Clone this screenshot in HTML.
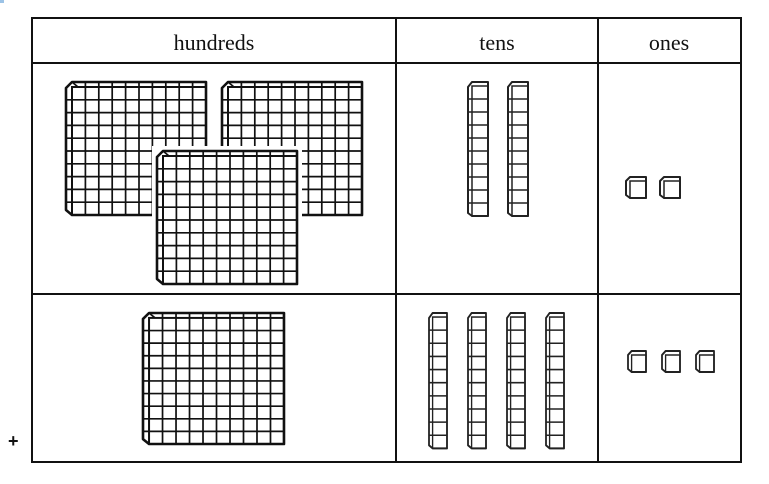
<!DOCTYPE html>
<html><head><meta charset="utf-8"><style>
html,body{margin:0;padding:0;background:#fff;width:769px;height:484px;overflow:hidden}
svg{display:block}
text{font-family:"Liberation Serif","DejaVu Serif",serif;font-size:22px;fill:#111}
</style></head><body>
<svg width="769" height="484" viewBox="0 0 769 484" xmlns="http://www.w3.org/2000/svg">
<defs>
<g id="flat">
<path d="M0,6 L6,0 L140,0 L140,133 L6,133 L0,128 Z" fill="#fff" stroke="#111" stroke-width="2.6" stroke-linejoin="round"/>
<rect x="6" y="5" width="134" height="128" fill="none" stroke="#111" stroke-width="2"/>
<path d="M19.4 5V133M32.8 5V133M46.2 5V133M59.6 5V133M73 5V133M86.4 5V133M99.8 5V133M113.2 5V133M126.6 5V133M6 17.8H140M6 30.6H140M6 43.4H140M6 56.2H140M6 69H140M6 81.8H140M6 94.6H140M6 107.4H140M6 120.2H140M0 17.8H6M0 30.6H6M0 43.4H6M0 56.2H6M0 69H6M0 81.8H6M0 94.6H6M0 107.4H6M0 120.2H6M6 0L12 5M19.4 0V5M32.8 0V5M46.2 0V5M59.6 0V5M73 0V5M86.4 0V5M99.8 0V5M113.2 0V5M126.6 0V5" stroke="#111" stroke-width="1.7" fill="none"/>
</g>
<g id="rod">
<path d="M0,5 L4,0 L20,0 L20,134 L4,134 L0,131 Z" fill="#fff" stroke="#222" stroke-width="2" stroke-linejoin="round"/>
<rect x="4" y="4" width="16" height="130" fill="none" stroke="#222" stroke-width="1.5"/>
<path d="M0 17H20M0 30H20M0 43H20M0 56H20M0 69H20M0 82H20M0 95H20M0 108H20M0 121H20" stroke="#222" stroke-width="1.5" fill="none"/>
</g>
<g id="cube">
<path d="M0,4 L4,0 L20,0 L20,21 L4,21 L0,18 Z" fill="#fff" stroke="#222" stroke-width="2" stroke-linejoin="round"/>
<rect x="4" y="4" width="16" height="17" fill="none" stroke="#222" stroke-width="1.5"/>
</g>
</defs>
<rect width="769" height="484" fill="#fff"/>
<path d="M0 0H4V3H0Z" fill="#9cc3e6"/>
<g stroke="#111" stroke-width="2" fill="none">
<rect x="32" y="18" width="709" height="444"/>
<line x1="32" y1="63" x2="741" y2="63"/>
<line x1="32" y1="294" x2="741" y2="294"/>
<line x1="396" y1="18" x2="396" y2="462"/>
<line x1="598" y1="18" x2="598" y2="462"/>
</g>
<text x="214" y="50" text-anchor="middle">hundreds</text>
<text x="497" y="50" text-anchor="middle">tens</text>
<text x="669" y="50" text-anchor="middle">ones</text>
<text x="8" y="447" style="font-family:'Liberation Sans',sans-serif;font-size:18px;font-weight:bold">+</text>
<use href="#flat" transform="translate(66,82)"/>
<use href="#flat" transform="translate(222,82)"/>
<rect x="152" y="146" width="150" height="143" fill="#fff"/>
<use href="#flat" transform="translate(157,151)"/>
<use href="#rod" transform="translate(468,82)"/>
<use href="#rod" transform="translate(508,82)"/>
<use href="#cube" transform="translate(626,177)"/>
<use href="#cube" transform="translate(660,177)"/>
<use href="#flat" transform="translate(143,313) scale(1.007,0.985)"/>
<use href="#rod" transform="translate(429,313) scale(0.9,1.01)"/>
<use href="#rod" transform="translate(468,313) scale(0.9,1.01)"/>
<use href="#rod" transform="translate(507,313) scale(0.9,1.01)"/>
<use href="#rod" transform="translate(546,313) scale(0.9,1.01)"/>
<use href="#cube" transform="translate(628,351) scale(0.9,1)"/>
<use href="#cube" transform="translate(662,351) scale(0.9,1)"/>
<use href="#cube" transform="translate(696,351) scale(0.9,1)"/>
</svg>
</body></html>
